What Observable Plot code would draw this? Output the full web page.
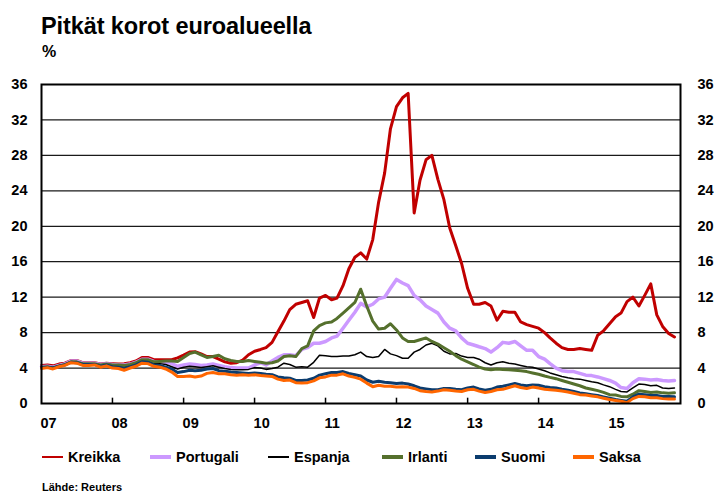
<!DOCTYPE html>
<html><head><meta charset="utf-8">
<script src="https://cdn.jsdelivr.net/npm/d3@7"></script>
<script src="https://cdn.jsdelivr.net/npm/@observablehq/plot@0.6"></script>
<style>
body{margin:0;background:#fff;font-family:"Liberation Sans",Arial,sans-serif;color:#000;}
#wrap{position:relative;width:717px;height:494px;overflow:hidden;background:#fff;}
#title{position:absolute;left:41px;top:15px;font-size:23.5px;line-height:23.5px;font-weight:bold;white-space:nowrap;letter-spacing:-0.1px;}
#unit{position:absolute;left:42px;top:44px;font-size:16px;line-height:16px;font-weight:bold;}
#chart{position:absolute;left:0;top:60px;}
#legend{position:absolute;left:0;top:450px;width:717px;height:14px;}
.item{position:absolute;top:0;height:14px;display:flex;align-items:center;font-size:14.5px;line-height:14px;font-weight:bold;white-space:nowrap;}
.sw{width:21px;margin-right:5px;}
#source{position:absolute;left:42px;top:482px;font-size:11px;line-height:11px;font-weight:bold;}
</style></head><body>
<div id="wrap">
  <div id="title">Pitkät korot euroalueella</div>
  <div id="unit">%</div>
  <div id="chart"></div>
  <div id="legend"></div>
  <div id="source">Lähde: Reuters</div>
</div>
<script>
// Monthly observations, Jan 2007 – Dec 2015
const months = d3.utcMonths(new Date(Date.UTC(2007, 0, 1)), new Date(Date.UTC(2016, 0, 1)));

const seriesNames = ["Kreikka", "Portugali", "Espanja", "Irlanti", "Suomi", "Saksa"];
const seriesColors = ["#c00000", "#cc99ff", "#000000", "#55702d", "#0b3c6e", "#ff6600"];
const seriesWidths = [3, 3.5, 1.5, 3, 3, 3];
const legendLeft = [42, 150, 268, 382, 475, 573];

const kreikka = [
  4.3, 4.35, 4.25, 4.45, 4.55, 4.85, 4.85, 4.6, 4.6, 4.6, 4.45, 4.55,
  4.5, 4.45, 4.5, 4.6, 4.8, 5.2, 5.2, 4.95, 4.95, 4.95, 4.95, 5.15,
  5.45, 5.8, 5.85, 5.6, 5.3, 5.3, 5.0, 4.7, 4.55, 4.6, 4.9, 5.5,
  5.9, 6.1, 6.3, 6.9, 8.1, 9.3, 10.6, 11.2, 11.4, 11.6, 9.7, 11.9,
  12.2, 11.7, 11.9, 13.3, 15.2, 16.5, 17.0, 16.3, 18.5, 22.7, 26.0, 31.0,
  33.5, 34.5, 35.0, 21.5, 25.2, 27.5, 28.0, 25.3, 23.0, 19.8, 17.8, 15.8,
  13.0, 11.2, 11.2, 11.4, 11.0, 9.4, 10.4, 10.3, 10.3, 9.2, 8.9, 8.7,
  8.5, 8.0, 7.4, 6.8, 6.3, 6.1, 6.1, 6.2, 6.1, 6.0, 7.7, 8.2,
  9.0, 9.8, 10.2, 11.5, 12.0, 11.0, 12.2, 13.5, 10.0, 8.7, 7.9, 7.5
];
const portugali = [
  4.15, 4.2, 4.1, 4.3, 4.45, 4.8, 4.8, 4.55, 4.55, 4.55, 4.4, 4.5,
  4.4, 4.35, 4.35, 4.45, 4.65, 5.0, 5.0, 4.75, 4.7, 4.65, 4.5, 4.2,
  4.35, 4.45, 4.4, 4.3, 4.35, 4.45, 4.3, 4.15, 4.05, 4.0, 4.0, 4.0,
  4.35, 4.6, 4.35, 4.8, 5.2, 5.5, 5.5, 5.4, 6.1, 6.3, 6.8, 6.8,
  7.0, 7.4, 7.6, 8.5, 9.4, 10.3, 11.3, 10.9, 11.2, 11.8, 12.0, 13.0,
  14.0, 13.6, 13.3, 12.2, 11.7, 11.0, 10.6, 10.2, 9.2, 8.5, 8.2, 7.4,
  6.8, 6.6, 6.4, 6.2, 5.8, 6.3, 6.9, 6.8, 7.0, 6.5, 6.0, 6.0,
  5.3, 5.0, 4.5, 4.0, 3.7, 3.6, 3.6, 3.4, 3.2, 3.15, 3.0, 2.8,
  2.6, 2.3, 1.8, 1.7, 2.35, 2.8, 2.75, 2.65, 2.7, 2.6, 2.55, 2.6
];
const espanja = [
  4.1, 4.15, 4.05, 4.25, 4.4, 4.7, 4.65, 4.45, 4.45, 4.45, 4.25, 4.35,
  4.2, 4.15, 4.1, 4.25, 4.45, 4.8, 4.8, 4.55, 4.5, 4.4, 4.15, 3.9,
  4.1, 4.2, 4.15, 4.05, 4.15, 4.25, 4.1, 3.95, 3.85, 3.8, 3.8, 3.85,
  4.05, 4.0, 3.85, 3.95, 4.1, 4.55, 4.4, 4.1, 4.15, 4.1, 4.65, 5.45,
  5.4, 5.3, 5.3, 5.35, 5.35, 5.5, 5.8, 5.3, 5.2, 5.3, 6.1, 5.6,
  5.4, 5.1, 5.1, 5.8, 6.1, 6.6, 6.8, 6.5, 5.9, 5.6, 5.65, 5.35,
  5.2, 5.2, 5.0, 4.6, 4.35, 4.6, 4.7, 4.55, 4.45, 4.3, 4.15, 4.1,
  3.9, 3.7, 3.45, 3.25, 3.05, 2.9, 2.8, 2.75, 2.6, 2.45, 2.35, 2.1,
  1.9, 1.6, 1.35, 1.3, 1.75, 2.2, 2.15, 2.0, 2.05, 1.75, 1.7, 1.75
];
const irlanti = [
  4.1, 4.15, 4.05, 4.25, 4.4, 4.7, 4.7, 4.5, 4.5, 4.5, 4.35, 4.45,
  4.35, 4.35, 4.3, 4.4, 4.6, 4.95, 4.95, 4.7, 4.75, 4.8, 4.8, 4.75,
  5.2, 5.65, 5.8, 5.5, 5.2, 5.3, 5.45, 5.05, 4.85, 4.75, 4.75, 4.85,
  4.75, 4.65, 4.55, 4.6, 4.8, 5.3, 5.4, 5.3, 6.2, 6.5, 8.2, 8.8,
  9.1, 9.2, 9.6, 10.2, 10.8, 11.4, 12.9, 11.0, 9.3, 8.4, 8.5, 9.0,
  8.3, 7.4, 7.0, 7.0, 7.2, 7.4, 7.0, 6.7, 6.3, 5.9, 5.4, 5.0,
  4.7, 4.4, 4.1, 3.9, 3.8, 3.9, 3.85, 3.8, 3.75, 3.7, 3.6, 3.45,
  3.3, 3.1, 2.95, 2.8, 2.6, 2.4, 2.2, 2.0, 1.75, 1.6, 1.45, 1.25,
  1.0, 0.95, 0.8, 0.75, 1.05, 1.45, 1.35, 1.25, 1.3, 1.2, 1.15, 1.2
];
const suomi = [
  4.05, 4.1, 4.0, 4.2, 4.35, 4.65, 4.6, 4.4, 4.4, 4.4, 4.2, 4.35,
  4.15, 4.1, 3.95, 4.15, 4.35, 4.7, 4.65, 4.35, 4.3, 4.1, 3.9, 3.5,
  3.6, 3.75, 3.7, 3.75, 3.9, 3.95, 3.7, 3.65, 3.55, 3.5, 3.45, 3.4,
  3.45, 3.4, 3.3, 3.25, 3.0, 2.9, 2.85, 2.6, 2.6, 2.65, 2.85, 3.2,
  3.35, 3.5, 3.5, 3.6, 3.4, 3.25, 3.1, 2.65, 2.4, 2.5, 2.4, 2.35,
  2.25, 2.3, 2.2, 2.0, 1.75, 1.65, 1.55, 1.55, 1.7, 1.7, 1.6, 1.55,
  1.75, 1.85, 1.65, 1.5, 1.6, 1.85, 1.95, 2.1, 2.25, 2.1, 2.0, 2.1,
  2.05, 1.9, 1.8, 1.75, 1.6, 1.5, 1.35, 1.2, 1.1, 1.0, 0.9, 0.75,
  0.6, 0.45, 0.35, 0.25, 0.75, 1.05, 1.0, 0.9, 0.9, 0.8, 0.8, 0.75
];
const saksa = [
  3.95, 4.05, 3.9, 4.15, 4.3, 4.6, 4.55, 4.3, 4.3, 4.35, 4.1, 4.25,
  4.0, 3.95, 3.75, 4.0, 4.2, 4.55, 4.5, 4.2, 4.1, 3.9, 3.55, 3.05,
  3.05, 3.1, 3.0, 3.1, 3.4, 3.5, 3.35, 3.35, 3.25, 3.2, 3.25, 3.2,
  3.25, 3.15, 3.1, 3.05, 2.75, 2.6, 2.65, 2.35, 2.3, 2.35, 2.55, 2.9,
  3.0, 3.2, 3.2, 3.35, 3.1, 2.95, 2.75, 2.3, 1.9, 2.05, 1.95, 1.95,
  1.85, 1.9, 1.85, 1.7, 1.45, 1.35, 1.3, 1.4, 1.55, 1.5, 1.4, 1.35,
  1.55, 1.6, 1.4, 1.25, 1.35, 1.55, 1.6, 1.8, 2.0, 1.8, 1.7, 1.85,
  1.75, 1.6, 1.55, 1.5, 1.4, 1.3, 1.15, 1.0, 0.95, 0.85, 0.75, 0.6,
  0.45, 0.35, 0.25, 0.1, 0.55, 0.8, 0.75, 0.65, 0.65, 0.55, 0.5, 0.5
];

const yTicks = [0, 4, 8, 12, 16, 20, 24, 28, 32, 36];
const xLabelYears = [2007, 2008, 2009, 2010, 2011, 2012, 2013, 2014, 2015];
const xTickYears = [2008, 2009, 2010, 2011, 2012, 2013, 2014, 2015];

const valuesBySeries = [kreikka, portugali, espanja, irlanti, suomi, saksa];
const rows = seriesNames.map((name, i) =>
  months.map((date, j) => ({series: name, date, value: valuesBySeries[i][j]}))
);

const yr = y => new Date(Date.UTC(y, 0, 1));

const chart = Plot.plot({
  width: 717,
  height: 370,
  marginLeft: 41,
  marginRight: 37,
  marginTop: 24,
  marginBottom: 27,
  style: {fontFamily: "'Liberation Sans', Arial, sans-serif", fontSize: "14.5px", fontWeight: "bold", color: "#000", background: "#fff", overflow: "visible"},
  x: {type: "utc", domain: [yr(2007), yr(2016)]},
  y: {domain: [0, 36]},
  marks: [
    Plot.ruleY(yTicks.filter(d => d > 0 && d < 36), {stroke: "#1a1a1a", strokeWidth: 1.2}),
    Plot.ruleX(xTickYears.map(yr), {y1: 0, y2: 0.6, stroke: "#000", strokeWidth: 1.5}),
    ...rows.map((data, i) => Plot.line(data, {
      x: "date", y: "value",
      stroke: seriesColors[i], strokeWidth: seriesWidths[i],
      strokeLinejoin: "round", curve: "linear"
    })),
    Plot.frame({stroke: "#000", strokeWidth: 2}),
    Plot.axisY({anchor: "left", ticks: yTicks, tickSize: 0, tickPadding: 14, label: null, fontWeight: "bold", fontSize: 14.5}),
    Plot.axisY({anchor: "right", ticks: yTicks, tickSize: 0, tickPadding: 17, label: null, fontWeight: "bold", fontSize: 14.5}),
    Plot.axisX({anchor: "bottom", ticks: xLabelYears.map(yr), tickSize: 0, tickPadding: 14,
      tickFormat: d3.utcFormat("%y"), textAnchor: "start", dx: -1, label: null, fontWeight: "bold", fontSize: 14.5})
  ]
});
document.getElementById("chart").appendChild(chart);

const legend = document.getElementById("legend");
seriesNames.forEach((name, i) => {
  const item = document.createElement("div");
  item.className = "item";
  item.style.left = legendLeft[i] + "px";
  const sw = document.createElement("div");
  sw.className = "sw";
  sw.style.background = seriesColors[i];
  sw.style.height = (i === 2 ? 2 : (i === 0 ? 2.5 : 3.5)) + "px";
  item.appendChild(sw);
  const t = document.createElement("span");
  t.textContent = name;
  item.appendChild(t);
  legend.appendChild(item);
});
</script>
</body></html>
